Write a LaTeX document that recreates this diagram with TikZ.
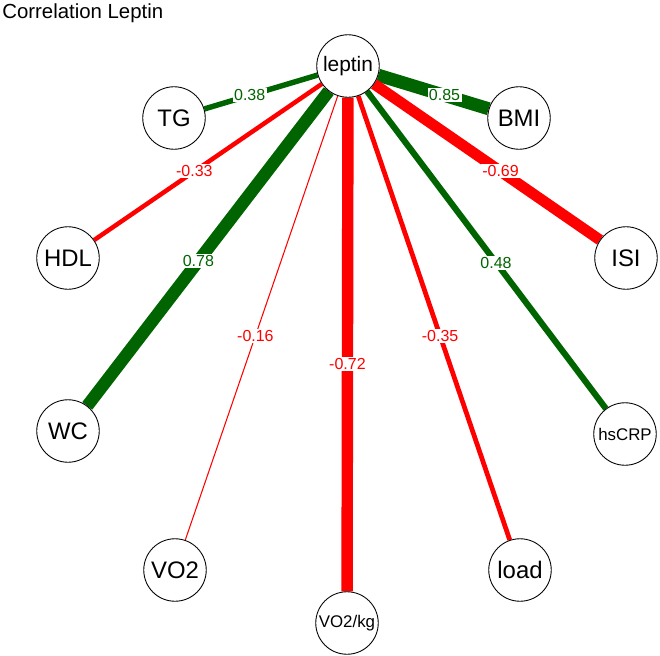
\documentclass[tikz,border=0pt]{standalone}
\usepackage{fontspec}
\setmainfont{Liberation Sans}
\usetikzlibrary{backgrounds}
\definecolor{korgruen}{RGB}{0,100,0}
\definecolor{korrot}{RGB}{255,0,0}
\tikzset{
	merkmal/.style={circle, draw=black, line width=0.5pt, fill=white,
		minimum size=1.25cm, inner sep=0pt, font=\fontsize{13.6}{14}\selectfont},
	klein/.style={font=\fontsize{9.6}{10}\selectfont},
	positiv/.style={draw=korgruen, color=korgruen},
	negativ/.style={draw=korrot, color=korrot},
	wert/.style={fill=white, inner sep=0.8pt, font=\fontsize{9.1}{9.5}\selectfont}
}
\begin{document}
\begin{tikzpicture}[x=0.02cm, y=-0.02cm]
	\useasboundingbox (0,0) rectangle (660,656);
	% Titel
	\node[anchor=base west, inner sep=0pt, font=\fontsize{11.6}{12}\selectfont]
	(titel) at (2,18) {Correlation Leptin};
	% Merkmale
	\node[merkmal, font=\fontsize{11.9}{12}\selectfont] (leptin) at (348,66) {leptin};
	\node[merkmal] (TG) at (174,118) {TG};
	\node[merkmal] (BMI) at (519,118) {BMI};
	\node[merkmal] (HDL) at (68,258) {HDL};
	\node[merkmal] (ISI) at (626,258) {ISI};
	\node[merkmal] (WC) at (68,431) {WC};
	\node[merkmal, klein] (hsCRP) at (625,434) {hsCRP};
	\node[merkmal] (VO2) at (175,570) {VO2};
	\node[merkmal] (load) at (520,570) {load};
	\node[merkmal, klein] (VO2kg) at (347,623) {VO2/kg};
	% Korrelationen
	\begin{scope}[on background layer]
		\draw[positiv, line width=3.1pt] (leptin) -- node[wert, pos=0.6] {0.38} (TG);
		\draw[positiv, line width=7.4pt] (leptin) -- node[wert, pos=0.6] {0.85} (BMI);
		\draw[negativ, line width=2.55pt] (leptin) -- node[wert, pos=0.56] {-0.33} (HDL);
		\draw[negativ, line width=6.2pt] (leptin) -- node[wert, pos=0.56] {-0.69} (ISI);
		\draw[positiv, line width=7.1pt] (leptin) -- node[wert, pos=0.54] {0.78} (WC);
		\draw[positiv, line width=3.5pt] (leptin) -- node[wert, pos=0.54] {0.48} (hsCRP);
		\draw[negativ, line width=0.6pt] (leptin) -- node[wert, pos=0.54] {-0.16} (VO2);
		\draw[negativ, line width=2.7pt] (leptin) -- node[wert, pos=0.54] {-0.35} (load);
		\draw[negativ, line width=6.5pt] (leptin) -- node[wert, pos=0.54] {-0.72} (VO2kg);
	\end{scope}
\end{tikzpicture}
\end{document}
